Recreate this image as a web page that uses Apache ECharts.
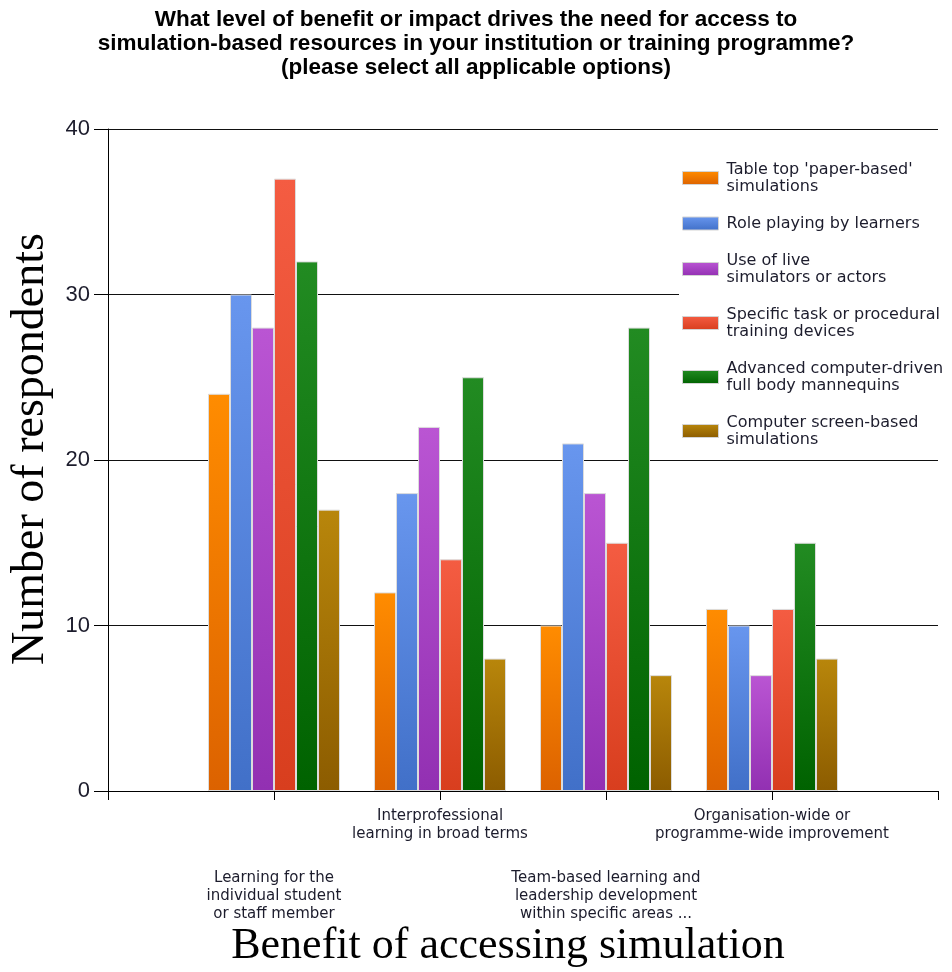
<!DOCTYPE html>
<html>
<head>
<meta charset="utf-8">
<script src="https://cdn.jsdelivr.net/npm/echarts@6/dist/echarts.min.js"></script>
<style>
  html, body { margin: 0; padding: 0; background: #ffffff; }
  #chart { width: 952px; height: 972px; }
</style>
</head>
<body>
<div id="chart"></div>
<script>
// Benefit categories; empty slots at both ends leave a band of space on each side.
const categories = [
  '',
  'Learning for the\nindividual student\nor staff member',
  'Interprofessional\nlearning in broad terms',
  'Team-based learning and\nleadership development\nwithin specific areas ...',
  'Organisation-wide or\nprogramme-wide improvement',
  ''
];

const seriesNames = [
  "Table top 'paper-based'\nsimulations",
  'Role playing by learners',
  'Use of live\nsimulators or actors',
  'Specific task or procedural\ntraining devices',
  'Advanced computer-driven\nfull body mannequins',
  'Computer screen-based\nsimulations'
];

// Number of respondents per category
const tableTop      = [null, 24, 12, 10, 11, null];
const rolePlaying   = [null, 30, 18, 21, 10, null];
const liveActors    = [null, 28, 22, 18, 7, null];
const taskDevices   = [null, 37, 14, 15, 11, null];
const mannequins    = [null, 32, 25, 28, 15, null];
const screenBased   = [null, 17, 8, 7, 8, null];

const yTicks = [0, 10, 20, 30, 40];

// Top / bottom shades of each bar gradient
const barShades = [
  ['#ff8c00', '#dc6200'],
  ['#6896ee', '#4170c8'],
  ['#ba55d3', '#9230b2'],
  ['#f45c42', '#d83e1e'],
  ['#228b22', '#006200'],
  ['#b8860b', '#8c5c00']
];

const seriesValues = [tableTop, rolePlaying, liveActors, taskDevices, mannequins, screenBased];

function shade(i) {
  return {
    type: 'linear', x: 0, y: 0, x2: 0, y2: 1,
    colorStops: [
      { offset: 0, color: barShades[i][0] },
      { offset: 1, color: barShades[i][1] }
    ]
  };
}

const labelFont = {
  fontFamily: 'DejaVu Sans',
  fontSize: 15,
  lineHeight: 18,
  color: '#1c1c2c'
};

const chart = echarts.init(document.getElementById('chart'), null, { renderer: 'canvas' });

chart.setOption({
  animation: false,
  backgroundColor: '#ffffff',
  title: {
    text: 'What level of benefit or impact drives the need for access to\nsimulation-based resources in your institution or training programme?\n(please select all applicable options)',
    left: 'center',
    top: 8,
    padding: 0,
    textStyle: {
      fontFamily: 'Liberation Sans',
      fontWeight: 'bold',
      fontSize: 22.5,
      lineHeight: 24,
      color: '#000000',
      align: 'center'
    }
  },
  grid: {
    left: 108,
    right: 14,
    top: 129,
    bottom: 181,
    containLabel: false
  },
  legend: {
    orient: 'vertical',
    left: 679,
    top: 152,
    padding: [9, 2, 9, 3],
    backgroundColor: '#ffffff',
    itemWidth: 36,
    itemHeight: 13,
    itemGap: 20,
    icon: 'rect',
    data: seriesNames,
    itemStyle: { borderColor: '#d4d4d4', borderWidth: 1 },
    textStyle: {
      fontFamily: 'DejaVu Sans',
      fontSize: 16,
      lineHeight: 17,
      color: '#1c1c2c',
      padding: [0, 0, 0, 3]
    }
  },
  xAxis: [
    {
      type: 'category',
      data: categories,
      boundaryGap: false,
      axisLine: { show: true, lineStyle: { color: '#000000', width: 1 } },
      axisTick: { show: true, interval: 0, length: 9, lineStyle: { color: '#000000' } },
      splitLine: { show: false },
      axisLabel: Object.assign({
        interval: 0,
        margin: 16,
        formatter: (v, i) => (i % 2 === 0 ? v : '')
      }, labelFont)
    },
    {
      type: 'category',
      data: categories,
      boundaryGap: false,
      position: 'bottom',
      axisLine: { show: false },
      axisTick: { show: false },
      splitLine: { show: false },
      axisLabel: Object.assign({
        interval: 0,
        margin: 78,
        formatter: (v, i) => (i % 2 === 1 ? v : '')
      }, labelFont)
    }
  ],
  yAxis: {
    type: 'value',
    min: yTicks[0],
    max: yTicks[yTicks.length - 1],
    interval: yTicks[1] - yTicks[0],
    axisLine: { show: true, lineStyle: { color: '#000000', width: 1 } },
    axisTick: { show: true, length: 14, lineStyle: { color: '#000000' } },
    splitLine: { show: true, lineStyle: { color: '#111111', width: 1 } },
    axisLabel: {
      margin: 18,
      fontFamily: 'Liberation Sans',
      fontSize: 22,
      color: '#1c1c2c'
    }
  },
  graphic: [
    {
      type: 'text',
      x: 31,
      y: 449,
      rotation: Math.PI / 2,
      style: {
        text: 'Number of respondents',
        fontFamily: 'Liberation Serif',
        fontSize: 46,
        align: 'center',
        verticalAlign: 'middle',
        fill: '#000000'
      }
    },
    {
      type: 'text',
      x: 508,
      y: 946,
      style: {
        text: 'Benefit of accessing simulation',
        fontFamily: 'Liberation Serif',
        fontSize: 44,
        align: 'center',
        verticalAlign: 'middle',
        fill: '#000000'
      }
    }
  ],
  series: seriesNames.map((name, i) => ({
    name: name,
    type: 'bar',
    xAxisIndex: 0,
    data: seriesValues[i],
    barWidth: 22,
    barGap: '0%',
    itemStyle: {
      color: shade(i),
      borderColor: '#dcdcdc',
      borderWidth: 1
    }
  }))
});
</script>
</body>
</html>
